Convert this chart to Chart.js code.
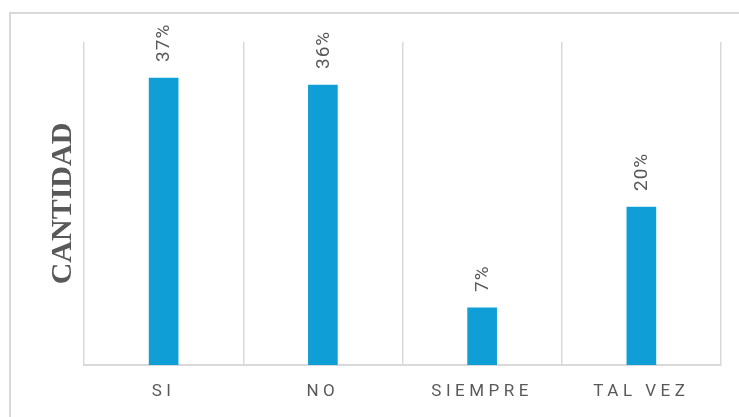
<!DOCTYPE html>
<html>
<head>
<meta charset="utf-8">
<script src="https://cdn.jsdelivr.net/npm/chart.js@4"></script>
<style>
  html, body { margin: 0; padding: 0; background: #fff; overflow: hidden; }
  #marco { position: absolute; left: 9px; top: 12px; width: 800px; height: 500px; border: 2px solid #d9d9d9; }
  #grafico { position: absolute; left: 0; top: 0; }
</style>
</head>
<body>
<div id="marco"></div>
<canvas id="grafico" width="739" height="417"></canvas>
<script>
// datos
const categorias = ["SI", "NO", "SIEMPRE", "TAL VEZ"];
const porcentajes = [36.7, 35.8, 7.3, 20.2];
const tituloY = "CANTIDAD";

const gris = "#595959";
const azul = "#0F9ED5";

// etiquetas de datos giradas encima de cada barra
const etiquetasBarras = {
    id: "etiquetasBarras",
    afterDatasetsDraw(chart) {
        const ctx = chart.ctx;
        const meta = chart.getDatasetMeta(0);
        ctx.save();
        ctx.font = "19px Roboto";
        ctx.fillStyle = gris;
        ctx.letterSpacing = "1px";
        ctx.textAlign = "left";
        ctx.textBaseline = "middle";
        meta.data.forEach((barra, i) => {
            ctx.save();
            ctx.translate(barra.x + 1, barra.y - 16);
            ctx.rotate(-Math.PI / 2);
            ctx.fillText(Math.round(porcentajes[i]) + "%", 0, 0);
            ctx.restore();
        });
        ctx.restore();
    }
};

// espaciado de letras solo en las etiquetas del eje x
const espaciado = {
    id: "espaciado",
    afterLayout(chart) {
        const eje = chart.scales.x;
        if (eje._conEspaciado) return;
        const original = eje.drawLabels.bind(eje);
        eje.drawLabels = function (area) {
            const ctx = this.ctx;
            const antes = ctx.letterSpacing;
            ctx.letterSpacing = "4.5px";
            original(area);
            ctx.letterSpacing = antes;
        };
        eje._conEspaciado = true;
    }
};

new Chart(document.getElementById("grafico"), {
    type: "bar",
    data: {
        labels: categorias,
        datasets: [{
            data: porcentajes,
            backgroundColor: azul,
            barThickness: 29
        }]
    },
    options: {
        responsive: false,
        animation: false,
        layout: { padding: { left: 41, top: 42, right: 18, bottom: 0 } },
        plugins: {
            legend: { display: false },
            tooltip: { enabled: false }
        },
        scales: {
            x: {
                grid: { color: "#d9d9d9", lineWidth: 1.5, drawTicks: false },
                border: { color: "#d9d9d9", width: 2 },
                ticks: { color: gris, font: { family: "Roboto", size: 17 }, padding: 17 },
                afterFit(s) { s.height = 52; }
            },
            y: {
                min: 0,
                max: 41.3,
                grid: { display: false },
                border: { display: false },
                ticks: { display: false },
                title: {
                    display: true,
                    text: tituloY,
                    color: gris,
                    font: { family: "Liberation Serif", size: 30, weight: "bold" }
                },
                afterFit(s) { s.width = 43; }
            }
        }
    },
    plugins: [etiquetasBarras, espaciado]
});
</script>
</body>
</html>
